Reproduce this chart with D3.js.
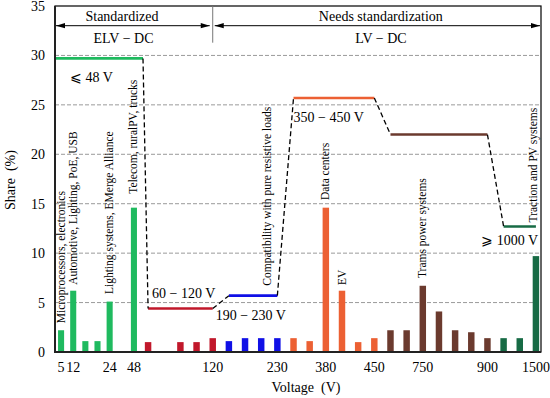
<!DOCTYPE html>
<html>
<head>
<meta charset="utf-8">
<script src="https://cdn.jsdelivr.net/npm/d3@7"></script>
<style>
    body { margin: 0; background: #fff; }
    text { font-family: "Liberation Serif", "DejaVu Serif", serif; fill: #000; }
</style>
</head>
<body>
<svg id="chart" width="550" height="398"></svg>
<script>
// bars, left to right (c.. = unlabelled voltages)
var categories = ["5", "12", "c3", "c4", "24", "48",
    "c7", "c8", "c9", "120",
    "c11", "c12", "c13", "230",
    "c15", "c16", "380", "c18", "c19", "450",
    "c21", "c22", "750", "c24", "c25", "c26", "900",
    "c28", "c29", "1500"];
var shares = [2.2, 6.2, 1.1, 1.1, 5.1, 14.6,
    1.0, 1.0, 1.0, 1.4,
    1.1, 1.4, 1.4, 1.4,
    1.4, 1.1, 14.6, 6.2, 1.0, 1.4,
    2.2, 2.2, 6.7, 4.1, 2.2, 2.0, 1.4,
    1.4, 1.4, 9.7];
var barGroup = [0, 0, 0, 0, 0, 0,
    1, 1, 1, 1,
    2, 2, 2, 2,
    3, 3, 3, 3, 3, 3,
    4, 4, 4, 4, 4, 4, 4,
    5, 5, 5];
// empty slot after these bars
var spacerAfter = ["24", "c7"];
var tickLabels = ["5", "12", "24", "48", "120", "230", "380", "450", "750", "900", "1500"];
var yTicks = [0, 5, 10, 15, 20, 25, 30, 35];

// voltage ranges (horizontal lines)
var rangeLevels = [29.7, 4.4, 5.7, 25.7, 22.0, 12.7];
var rangeNames = ["\u2A7D 48 V", "60 \u2212 120 V", "190 \u2212 230 V", "350 \u2212 450 V", "", "\u2A7E 1000 V"];

// applications written above bars
var appCats = ["5", "12", "24", "48", "230", "380", "c18", "750", "1500"];
var appNames = ["Microprocessors, electronics", "Automotive, Lighting, PoE, USB",
    "Lighting systems, EMerge Alliance", "Telecom, ruralPV, trucks",
    "Compatibility with pure resistive loads", "Data centers", "EV",
    "Trams power systems", "Traction and PV systems"];

var colors = ["#1fba5f", "#c1182b", "#1010e6", "#ec6033", "#6b3a2e", "#176b45"];

var pl = 55, pr = 541, pt = 6, pb = 352, split = 140;
var svg = d3.select("#chart");

var y = d3.scaleLinear().domain([0, 35]).range([pb, pt]);

function withSpacers(keys) {
    var out = [];
    keys.forEach(function (k) {
        out.push(k);
        if (spacerAfter.indexOf(k) >= 0) out.push("gap-" + k);
    });
    return out;
}
var lowKeys = categories.filter(function (c, i) { return barGroup[i] === 0; });
var highKeys = categories.filter(function (c, i) { return barGroup[i] !== 0; });

var xLow = d3.scaleBand().domain(withSpacers(lowKeys)).range([pl, split])
    .paddingInner(0.5).paddingOuter(0.25);
var xHigh = d3.scaleBand().domain(withSpacers(highKeys)).range([split, 544])
    .paddingInner(0.6).paddingOuter(0.3);

function sc(k) { return lowKeys.indexOf(k) >= 0 ? xLow : xHigh; }
function xc(k) { var s = sc(k); return s(k) + s.bandwidth() / 2; }
function val(k) { return shares[categories.indexOf(k)]; }

// grid
svg.append("g").selectAll("line")
    .data(yTicks.filter(function (d) { return d > 0 && d < 35; }))
    .enter().append("line")
    .attr("x1", pl).attr("x2", pr)
    .attr("y1", function (d) { return y(d); })
    .attr("y2", function (d) { return y(d); })
    .attr("stroke", "#9a9a9a")
    .attr("stroke-width", 1)
    .attr("stroke-dasharray", "4,2");

// bars
svg.append("g").selectAll("rect")
    .data(categories)
    .enter().append("rect")
    .attr("x", function (d) { return sc(d)(d); })
    .attr("width", function (d) { return sc(d).bandwidth(); })
    .attr("y", function (d, i) { return y(shares[i]); })
    .attr("height", function (d, i) { return pb - y(shares[i]); })
    .attr("fill", function (d, i) { return colors[barGroup[i]]; });

// range lines
var segs = rangeLevels.map(function (v, g) {
    var keys = categories.filter(function (c, i) { return barGroup[i] === g; });
    var x1 = xc(keys[0]), x2 = xc(keys[keys.length - 1]);
    if (g === 0) { x1 = pl + 1; x2 = split + 3; }
    return {x1: x1, x2: x2, y: y(v), g: g};
});
svg.append("g").selectAll("line")
    .data(segs)
    .enter().append("line")
    .attr("x1", function (d) { return d.x1; })
    .attr("x2", function (d) { return d.x2; })
    .attr("y1", function (d) { return d.y; })
    .attr("y2", function (d) { return d.y; })
    .attr("stroke", function (d) { return colors[d.g]; })
    .attr("stroke-width", 2.6);

svg.append("g").selectAll("line")
    .data(d3.pairs(segs))
    .enter().append("line")
    .attr("x1", function (d) { return d[0].x2; })
    .attr("y1", function (d) { return d[0].y; })
    .attr("x2", function (d) { return d[1].x1; })
    .attr("y2", function (d) { return d[1].y; })
    .attr("stroke", "#000")
    .attr("stroke-width", 1.3)
    .attr("stroke-dasharray", "5,3");

// range names
var rangePos = [
    {x: (xc("12") + xc("24")) / 2, dy: 24, anchor: "middle"},
    {x: xc("c7") + 4, dy: -11, anchor: "start"},
    {x: xc("120") + 3, dy: 15, anchor: "start"},
    {x: xc("c15"), dy: 24, anchor: "start"},
    null,
    {x: pr - 3, dy: 19, anchor: "end"}
];
rangeNames.forEach(function (t, g) {
    if (!t) return;
    var p = rangePos[g];
    var yy = g === 2 ? y(rangeLevels[1]) + 11 : y(rangeLevels[g]) + p.dy;
    svg.append("text")
        .attr("x", p.x).attr("y", yy)
        .attr("text-anchor", p.anchor)
        .attr("font-size", 14)
        .text(t);
});

// application labels (vertical)
var appGap = [7, 6, 7.5, 14, 0, 7.7, 5.7, 7.7, 0];
appNames.forEach(function (t, i) {
    var k = appCats[i];
    var bx = xc(k) + 3.5, by = y(val(k)) - appGap[i];
    if (k === "230") { bx = xc(k) - 6; by = y(rangeLevels[2]) - 10; }
    if (k === "1500") { bx = xc(k) + 1.5; by = y(rangeLevels[5]) - 4; }
    svg.append("text")
        .attr("transform", "translate(" + bx + "," + by + ") rotate(-90)")
        .attr("font-size", 11.5)
        .text(t);
});

// axes
var axLow = d3.axisBottom(xLow).tickValues(tickLabels.filter(function (t) { return lowKeys.indexOf(t) >= 0; }))
    .tickSize(0).tickPadding(10);
var axHigh = d3.axisBottom(xHigh).tickValues(tickLabels.filter(function (t) { return highKeys.indexOf(t) >= 0; }))
    .tickSize(0).tickPadding(10);
[axLow, axHigh].forEach(function (ax) {
    var g = svg.append("g").attr("transform", "translate(0," + pb + ")").call(ax);
    g.select(".domain").remove();
    g.selectAll("text").attr("font-size", 14).attr("font-family", null);
});
var gy = svg.append("g").attr("transform", "translate(" + pl + ",0)")
    .call(d3.axisLeft(y).tickValues(yTicks).tickSize(0).tickPadding(10));
gy.select(".domain").remove();
gy.selectAll("text").attr("font-size", 14).attr("font-family", null);

// frame
svg.append("rect")
    .attr("x", pl).attr("y", pt)
    .attr("width", pr - pl).attr("height", pb - pt)
    .attr("fill", "none").attr("stroke", "#000").attr("stroke-width", 1.2);
svg.append("path")
    .attr("d", "M" + pl + "," + pt + "V" + pb + "H" + pr)
    .attr("fill", "none").attr("stroke", "#222").attr("stroke-width", 2);

// header arrows
var divX = xc("120"), arrowY = 25.7;
svg.append("line").attr("x1", divX).attr("x2", divX).attr("y1", pt).attr("y2", 42.7)
    .attr("stroke", "#777").attr("stroke-width", 1);
function arrow(x1, x2) {
    svg.append("line").attr("x1", x1).attr("x2", x2).attr("y1", arrowY).attr("y2", arrowY)
        .attr("stroke", "#000").attr("stroke-width", 1);
    svg.append("path").attr("d", "M" + x1 + "," + arrowY + "l9,-2.6v5.2z");
    svg.append("path").attr("d", "M" + x2 + "," + arrowY + "l-9,-2.6v5.2z");
}
arrow(pl + 1, divX - 3);
arrow(divX + 2, pr - 1);

var head = [
    {x: pl + 67, y: 21, t: "Standardized"},
    {x: pl + 68.5, y: 43, t: "ELV \u2212 DC"},
    {x: (divX + pr) / 2 + 4, y: 21, t: "Needs standardization"},
    {x: (divX + pr) / 2 + 4, y: 43, t: "LV \u2212 DC"}
];
svg.append("g").selectAll("text").data(head).enter().append("text")
    .attr("x", function (d) { return d.x; })
    .attr("y", function (d) { return d.y; })
    .attr("text-anchor", "middle")
    .attr("font-size", 14)
    .text(function (d) { return d.t; });

// axis titles
svg.append("text").attr("x", 306).attr("y", 392).attr("text-anchor", "middle")
    .attr("font-size", 14).text("Voltage\u2002(V)");
svg.append("text").attr("transform", "translate(15,180) rotate(-90)").attr("text-anchor", "middle")
    .attr("font-size", 14).text("Share\u2002(%)");
</script>
</body>
</html>
